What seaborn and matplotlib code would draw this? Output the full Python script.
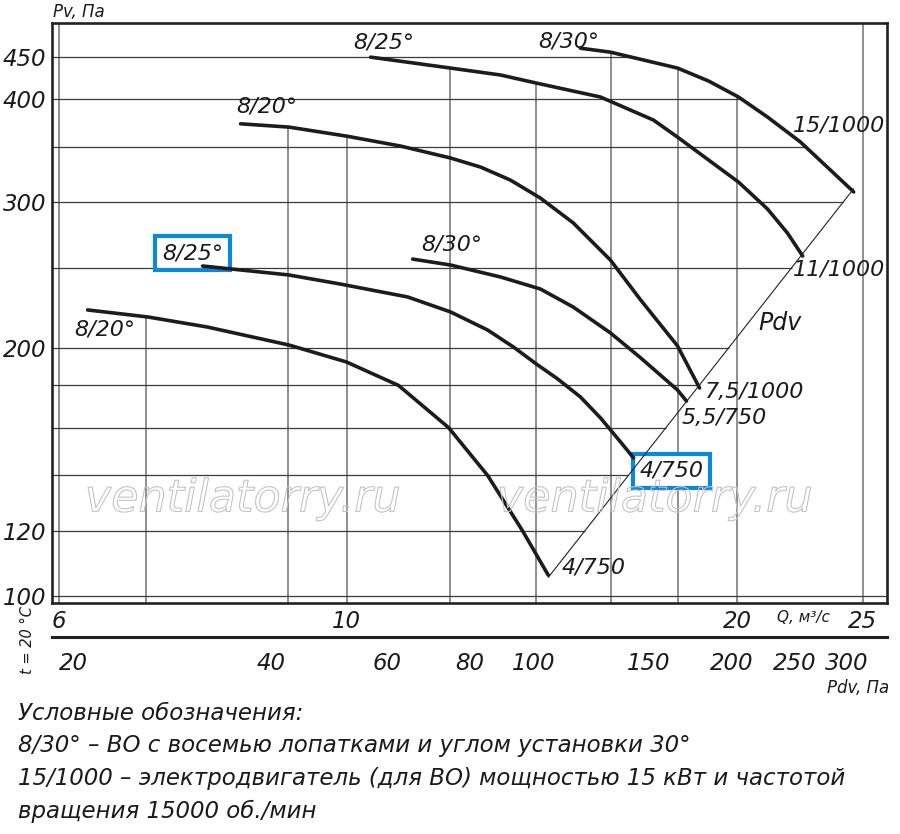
import numpy as np
import pandas as pd
import matplotlib
matplotlib.use("Agg")
import matplotlib.pyplot as plt
import matplotlib.patheffects as pe
import matplotlib.transforms as mtransforms
from matplotlib.ticker import FixedLocator, NullLocator, FixedFormatter
import seaborn as sns

# ---------------- data ----------------
# lower family
q_20_low = [6.31, 7.02, 7.80, 9.02, 9.99, 10.96, 11.98, 12.84, 13.66, 14.30]
p_20_low = [222.2, 217.9, 211.9, 201.5, 192.2, 180.0, 160.0, 140.0, 120.0, 106.0]
q_25_low = [7.74, 9.02, 9.88, 11.14, 12.02, 12.84, 13.44, 14.00, 14.54, 15.14, 15.69, 16.26, 16.64]
p_25_low = [251.2, 245.0, 238.9, 230.4, 221.0, 210.1, 200.4, 191.1, 183.3, 174.3, 164.4, 153.7, 147.0]
q_30_low = [11.24, 12.02, 13.14, 14.10, 14.95, 15.97, 16.85, 17.99, 18.28]
p_30_low = [256.1, 251.9, 243.6, 235.6, 224.0, 208.4, 194.4, 177.7, 172.3]
# upper family
q_20_up = [8.28, 9.02, 9.99, 11.00, 12.02, 12.68, 13.37, 14.10, 14.95, 15.97, 16.85, 17.99, 18.71]
p_20_up = [373.6, 370.2, 361.0, 351.1, 339.6, 331.1, 319.3, 303.7, 283.3, 255.4, 228.5, 201.0, 178.7]
q_25_up = [10.43, 12.02, 13.14, 14.00, 15.69, 17.24, 17.99, 20.05, 21.11, 21.87, 22.47]
p_25_up = [450.0, 436.5, 428.1, 418.6, 402.6, 377.5, 360.0, 317.5, 294.5, 275.4, 258.3]
q_30_up = [15.14, 15.97, 17.99, 19.01, 20.05, 21.11, 22.38, 23.74, 24.60]
p_30_up = [461.4, 456.3, 436.5, 421.0, 402.6, 380.7, 355.1, 325.6, 308.9]

curve_q = [q_20_low, q_25_low, q_30_low, q_20_up, q_25_up, q_30_up]
curve_p = [p_20_low, p_25_low, p_30_low, p_20_up, p_25_up, p_30_up]
start_labels = ["8/20°", "8/25°", "8/30°", "8/20°", "8/25°", "8/30°"]
end_labels = ["4/750", "4/750", "5,5/750", "7,5/1000", "11/1000", "15/1000"]
boxed = [False, True, False, False, False, False]

PDV_COEF = 0.515          # Pdv = k * Q^2 (line through curve end points)
q_ticks = [6, 10, 20, 25]
q_grid = [6, 7, 9, 10, 12, 14, 16, 18, 20, 25]
p_ticks = [100, 120, 200, 300, 400, 450]
p_grid = [100, 120, 140, 160, 180, 200, 250, 300, 350, 400, 450]
pdv_ticks = [20, 40, 60, 80, 100, 150, 200, 250, 300]

legend_lines = [
    "Условные обозначения:",
    "8/30° – ВО с восемью лопатками и углом установки 30°",
    "15/1000 – электродвигатель (для ВО) мощностью 15 кВт и частотой",
    "вращения 15000 об./мин",
]

# ---------------- style ----------------
sns.set_style("white")
plt.rcParams["font.family"] = ["DejaVu Sans"]
plt.rcParams["font.style"] = "italic"
TXT = "#1a1a1a"
W, H = 900, 834
fx = lambda px: px / W
fy = lambda py: 1 - py / H

fig = plt.figure(figsize=(9, 8.34), dpi=100)
fig.patch.set_facecolor("white")
ax = fig.add_axes([fx(51.7), fy(603), (887 - 51.7) / W, (603 - 23) / H])
ax.set_xscale("log")
ax.set_yscale("log")
XL = (5.92, 26.1)
YL = (98.06, 495.0)
ax.set_xlim(*XL)
ax.set_ylim(*YL)

# ---------------- curves ----------------
rows = []
for i, (qs, ps) in enumerate(zip(curve_q, curve_p)):
    for j, (q, p) in enumerate(zip(qs, ps)):
        rows.append({"curve": i, "order": j, "Q": q, "P": p})
df = pd.DataFrame(rows)
sns.lineplot(data=df, x="Q", y="P", units="curve", estimator=None, sort=False,
             color="#1c1c1c", lw=2.6, ax=ax, zorder=4, legend=False,
             solid_joinstyle="round", solid_capstyle="round")

# Pdv line through the curve end points
end_q = [qs[-1] for qs in curve_q]
pdv_q = np.array([min(end_q), max(end_q)])
pdv_p = PDV_COEF * pdv_q ** 2
ax.plot(pdv_q, pdv_p, color="#222222", lw=0.8, zorder=4)

# ---------------- clipped grid ----------------
def top_at(q):
    vals = [np.interp(q, cq, cp) for cq, cp in zip(curve_q, curve_p) if cq[0] <= q <= cq[-1]]
    return max(vals) if vals else YL[1]

def right_at(p):
    vals = []
    for cq, cp in zip(curve_q, curve_p):
        if min(cp) <= p <= max(cp):
            vals.append(np.interp(p, cp[::-1], cq[::-1]))
    if pdv_p[0] <= p <= pdv_p[1]:
        vals.append(np.sqrt(p / PDV_COEF))
    return max(vals) if vals else XL[1]

for q in q_grid:
    ax.vlines(q, YL[0], top_at(q), color="#707070", lw=1.1, zorder=1)
for p in p_grid:
    ax.hlines(p, XL[0], right_at(p), color="#3a3a3a", lw=0.9, zorder=1)

# ---------------- axes decoration ----------------
for s in ax.spines.values():
    s.set_linewidth(1.9)
    s.set_color("#222222")
ax.xaxis.set_major_locator(FixedLocator(q_ticks))
ax.xaxis.set_major_formatter(FixedFormatter([str(v) for v in q_ticks]))
ax.xaxis.set_minor_locator(NullLocator())
ax.yaxis.set_major_locator(FixedLocator(p_ticks))
ax.yaxis.set_major_formatter(FixedFormatter([str(v) for v in p_ticks]))
ax.yaxis.set_minor_locator(NullLocator())
ax.tick_params(axis="both", length=0, labelsize=16.5, colors=TXT)
ax.tick_params(axis="x", pad=5)
ax.tick_params(axis="y", pad=4)
ax.set_xlabel("")
ax.set_ylabel("")

# ---------------- curve labels ----------------
box_kw = dict(boxstyle="square,pad=0.3", fc="white", ec="#0a88dc", lw=3)
start_off = [(17, -20), (-10, 13), (39, 15), (26, 17), (13, 15), (-12, 7)]
end_off = [(45, 8), (38, -13), (38, -17), (55, -4), (36, -13), (-15, 66)]
for i in range(len(curve_q)):
    bb = box_kw if boxed[i] else None
    ax.annotate(start_labels[i], (curve_q[i][0], curve_p[i][0]), xytext=start_off[i],
                textcoords="offset pixels", ha="center", va="center", fontsize=16,
                color=TXT, bbox=bb, zorder=3)
    ax.annotate(end_labels[i], (curve_q[i][-1], curve_p[i][-1]), xytext=end_off[i],
                textcoords="offset pixels", ha="center", va="center", fontsize=16,
                color=TXT, bbox=bb, zorder=3)
ax.text(21.6, 214, "Pdv", ha="center", va="center", fontsize=17, color=TXT, zorder=5)

# watermark
for xc in (243, 655):
    fig.text(fx(xc), fy(499), "ventilatorry.ru", ha="center", va="center", fontsize=32,
             color="none", zorder=10,
             path_effects=[pe.Stroke(linewidth=0.8, foreground="#c4c4c4")])

# ---------------- Pdv scale ----------------
ax2 = fig.add_axes([fx(51.7), fy(637), (887 - 51.7) / W, 0.0001])
ax2.set_xscale("log")
ax2.set_xlim(18.21, 339.1)
ax2.patch.set_visible(False)
for k in ("top", "left", "right"):
    ax2.spines[k].set_visible(False)
ax2.spines["bottom"].set_linewidth(2.2)
ax2.spines["bottom"].set_color("#222222")
ax2.set_yticks([])
ax2.xaxis.set_major_locator(FixedLocator(pdv_ticks))
ax2.xaxis.set_major_formatter(FixedFormatter([str(v) for v in pdv_ticks]))
ax2.xaxis.set_minor_locator(NullLocator())
ax2.tick_params(axis="x", direction="out", length=8, width=1.0, pad=3,
                labelsize=16.5, colors=TXT)
shift = mtransforms.ScaledTranslation(-5 / 100, 0, fig.dpi_scale_trans)
for lbl in ax2.get_xticklabels():
    lbl.set_transform(lbl.get_transform() + shift)

# ---------------- free texts ----------------
fig.text(fx(79), fy(12), "Pv, Па", ha="center", va="center", fontsize=12, color=TXT)
fig.text(fx(803), fy(618), "Q, м³/с", ha="center", va="center", fontsize=11, color=TXT)
fig.text(fx(858), fy(688), "Pdv, Па", ha="center", va="center", fontsize=12, color=TXT)
fig.text(fx(28), fy(640), "t = 20 °C", ha="center", va="center", fontsize=10.5,
         rotation=90, color=TXT)
for k, line in enumerate(legend_lines):
    fig.text(fx(18), fy(713 + 32.7 * k), line, ha="left", va="center",
             fontsize=16.5, color=TXT)

fig.savefig("out.png", dpi=100, facecolor="white")
